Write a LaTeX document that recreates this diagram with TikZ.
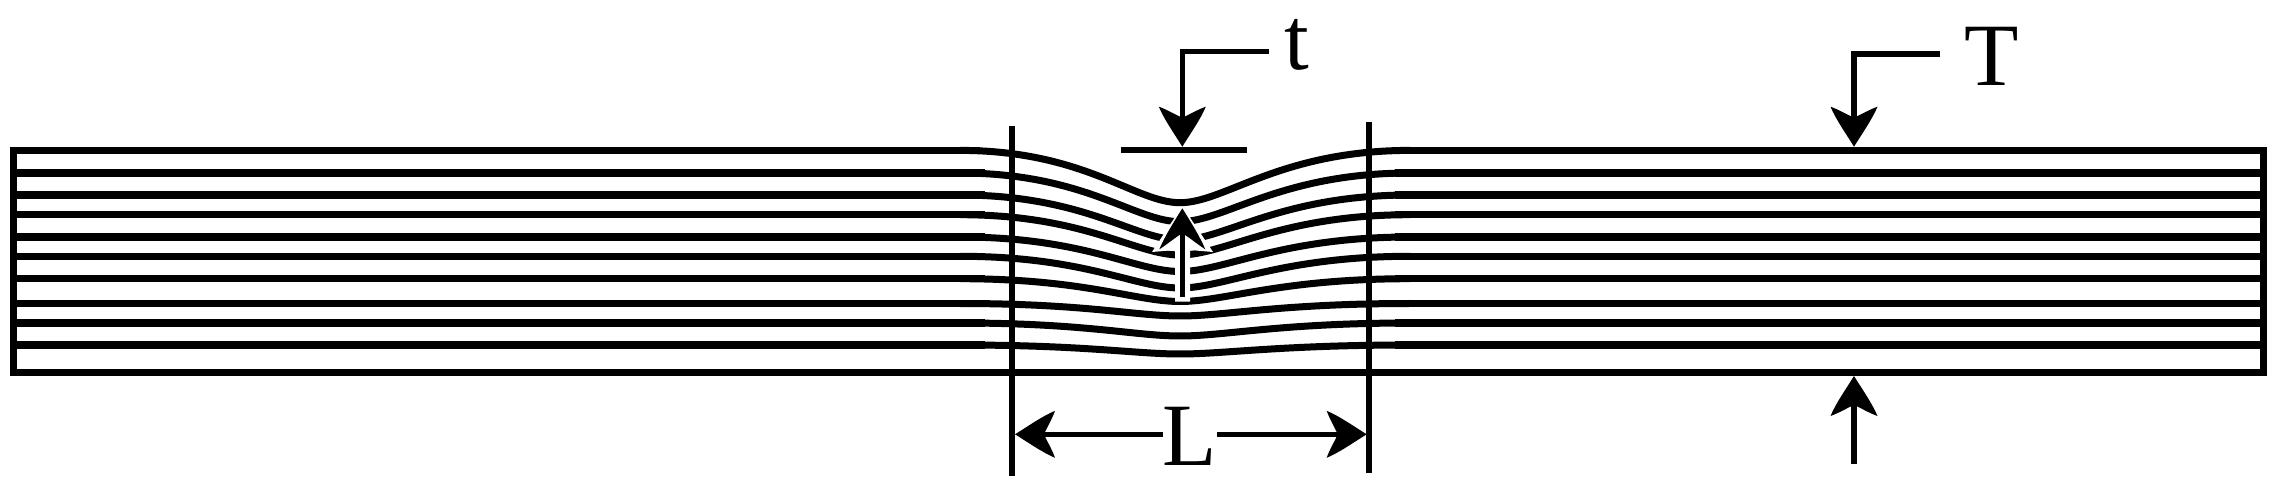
\documentclass[tikz,border=0pt]{standalone}
\usepackage{fontspec}
\setmainfont{Liberation Serif}
\usetikzlibrary{arrows.meta}
\pgfdeclarearrow{
  name=Barb,
  setup code={\pgfarrowssettipend{0pt}\pgfarrowssetlineend{-28pt}\pgfarrowssetbackend{-40pt}\pgfarrowssetvisualbackend{-29pt}},
  drawing code={
    \pgfpathmoveto{\pgfqpoint{0pt}{0pt}}
    \pgfpathcurveto{\pgfqpoint{-13pt}{8pt}}{\pgfqpoint{-27pt}{18pt}}{\pgfqpoint{-40pt}{23.5pt}}
    \pgfpathcurveto{\pgfqpoint{-37pt}{15pt}}{\pgfqpoint{-32pt}{7pt}}{\pgfqpoint{-29pt}{0pt}}
    \pgfpathcurveto{\pgfqpoint{-32pt}{-7pt}}{\pgfqpoint{-37pt}{-15pt}}{\pgfqpoint{-40pt}{-23.5pt}}
    \pgfpathcurveto{\pgfqpoint{-27pt}{-18pt}}{\pgfqpoint{-13pt}{-8pt}}{\pgfqpoint{0pt}{0pt}}
    \pgfusepathqfill
  }
}
\pgfdeclarearrow{
  name=BarbDeep,
  setup code={\pgfarrowssettipend{0pt}\pgfarrowssetlineend{-22pt}\pgfarrowssetbackend{-41pt}\pgfarrowssetvisualbackend{-25pt}},
  drawing code={
    \pgfpathmoveto{\pgfqpoint{0pt}{0pt}}
    \pgfpathcurveto{\pgfqpoint{-13pt}{8pt}}{\pgfqpoint{-27pt}{17pt}}{\pgfqpoint{-41pt}{23pt}}
    \pgfpathcurveto{\pgfqpoint{-36pt}{15pt}}{\pgfqpoint{-29pt}{7pt}}{\pgfqpoint{-25pt}{0pt}}
    \pgfpathcurveto{\pgfqpoint{-29pt}{-7pt}}{\pgfqpoint{-36pt}{-15pt}}{\pgfqpoint{-41pt}{-23pt}}
    \pgfpathcurveto{\pgfqpoint{-27pt}{-17pt}}{\pgfqpoint{-13pt}{-8pt}}{\pgfqpoint{0pt}{0pt}}
    \pgfusepathqfill
  }
}
\tikzset{
  x=1pt,y=-1pt,
  outer/.style={line width=7.5pt,line join=miter,draw=black},
  ply/.style={line width=7.2pt,draw=black},
  plycurve/.style={line width=7pt,draw=black},
  guide/.style={line width=6pt,draw=black},
  dimA/.style={line width=5.5pt,draw=black,line join=miter,-{Barb[]}},
  dimB/.style={line width=5.5pt,draw=black,-{BarbDeep[]}},
  lab/.style={font=\fontsize{89}{89}\selectfont,anchor=base,inner sep=0pt,text=black}
}
\begin{document}
\begin{tikzpicture}
\useasboundingbox (0,0) rectangle (2279,486);
% outer laminate with its dipped top surface
\draw[outer] (980,150.4) -- (13.5,150.4) -- (13.5,372.3) -- (2263.7,372.3) -- (2263.7,150.4) -- (1400,150.4);
\draw[plycurve] (960,150.4) .. controls (1085,150.4) and (1135,202.7) .. (1180,202.7)
   .. controls (1225,202.7) and (1280,150.4) .. (1410,150.4);
% inner plies: edge height / depth at mid-span
\foreach \yo/\yc in {173/221.7,195/240,214.7/255,237/271.5,256.3/288,278.7/301.5,303.5/316,323/336,345/354}{
  \draw[ply] (13.5,\yo) -- (985,\yo);
  \draw[ply] (1395,\yo) -- (2263.7,\yo);
  \draw[plycurve] (960,\yo) .. controls (1085,\yo) and (1135,\yc) .. (1180,\yc)
     .. controls (1225,\yc) and (1280,\yo) .. (1410,\yo);
}
% white halo round the inner arrow
\fill[white] (1182.3,206) -- (1213,252) -- (1190,250) -- (1190,301.7) -- (1175,301.7) -- (1175,250) -- (1152,252) -- cycle;
% gauge bars
\coordinate (barLt) at (1012.3,125.7);
\coordinate (barLb) at (1012.3,476);
\coordinate (barRt) at (1369.3,122);
\coordinate (barRb) at (1369.3,473);
\draw[guide] (barLt) -- (barLb);
\draw[guide] (barRt) -- (barRb);
\coordinate (tbarL) at (1120.7,150);
\coordinate (tbarR) at (1246.7,150);
\draw[guide] (tbarL) -- (tbarR);
% labels
\node[lab] (t) at (1297,70) {t};
\node[lab] (T) at (1991.7,86) {T};
\node[lab] (L) at (1190,465) {L};
% t dimension
\coordinate (tstart) at (1269,51.7);
\coordinate (tknee) at (1182.3,51.7);
\coordinate (ttip) at (1182.3,146.7);
\draw[dimA] (tstart) -- (tknee) -- (ttip);
\coordinate (itail) at (1182.3,296.7);
\coordinate (itip) at (1182.3,208.3);
\draw[dimB] (itail) -- (itip);
% T dimension
\coordinate (Tstart) at (1940,54);
\coordinate (Tknee) at (1854,54);
\coordinate (Ttip) at (1854,146.7);
\draw[dimA] (Tstart) -- (Tknee) -- (Ttip);
\coordinate (Btail) at (1854,464);
\coordinate (Btip) at (1854,376);
\draw[dimA] (Btail) -- (Btip);
% L dimension
\coordinate (Ltip) at (1015,434.3);
\coordinate (Rtip) at (1366.7,434.3);
\draw[dimA] (L.west |- Ltip) -- (Ltip);
\draw[dimA] (L.east |- Rtip) -- (Rtip);
\end{tikzpicture}
\end{document}
